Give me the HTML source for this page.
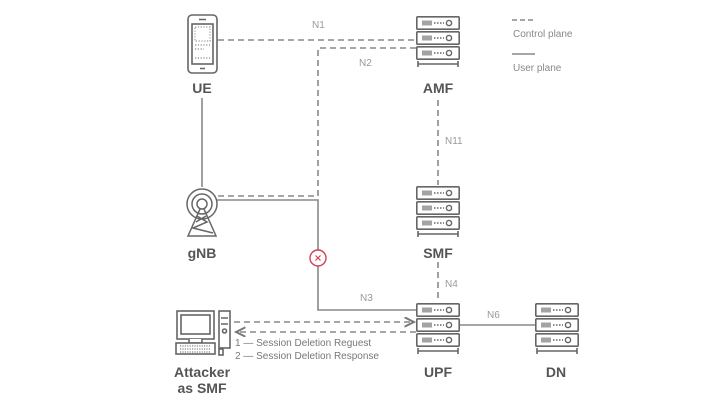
<!DOCTYPE html>
<html><head><meta charset="utf-8"><style>
html,body{margin:0;padding:0;background:#fff;}
svg{display:block;}
text{font-family:"Liberation Sans",sans-serif;}
.lbl{font-size:14px;font-weight:bold;fill:#555;text-anchor:middle;}
.sm{font-size:10px;fill:#999;}
</style></head><body>
<svg width="728" height="405" viewBox="0 0 728 405" xmlns="http://www.w3.org/2000/svg">
<defs>
<g id="unit">
<rect x="0.8" y="0.8" width="42.4" height="12.4" rx="1" fill="#fff" stroke="#666" stroke-width="1.6"/>
<path d="M7 4.5v5M9 4.5v5M11 4.5v5M13 4.5v5M15 4.5v5" stroke="#666" stroke-width="1.2"/>
<path d="M18 7h10" stroke="#666" stroke-width="1.4" stroke-dasharray="1.5 1.5"/>
<circle cx="33" cy="7" r="2.6" fill="none" stroke="#666" stroke-width="1.4"/>
</g>
<g id="server">
<use href="#unit" x="0" y="0"/>
<use href="#unit" x="0" y="15"/>
<use href="#unit" x="0" y="30"/>
<path d="M2 45v6M42 45v6M2 48h40" stroke="#666" stroke-width="1.6" fill="none"/>
</g>
<marker id="ar" markerWidth="8" markerHeight="8" refX="6" refY="3" orient="auto"><path d="M0,0 L6,3 L0,6" fill="none" stroke="#777" stroke-width="1.2"/></marker>
</defs>

<g stroke="#888" stroke-width="1.6" fill="none">
<!-- control plane -->
<path d="M218 40H416" stroke-dasharray="6 4"/>
<path d="M218 196H318V48H416" stroke-dasharray="6 4"/>
<path d="M438 100V185" stroke-dasharray="6 4"/>
<path d="M438 262V302" stroke-dasharray="6 4"/>
<path d="M234 322H414" stroke-dasharray="6 4" marker-end="url(#ar)"/>
<path d="M416 332H236" stroke-dasharray="6 4" marker-end="url(#ar)"/>
<!-- user plane -->
<path d="M202 98V187"/>
<path d="M216 200H318V310H416"/>
<path d="M460 325H535"/>
<!-- legend -->
<path d="M512 20H535" stroke-dasharray="5 3"/>
<path d="M512 54H535"/>
</g>

<!-- red X -->
<circle cx="318" cy="258" r="8" fill="#fff" stroke="#d04050" stroke-width="1.4"/>
<path d="M315.5 255.5l5 5M320.5 255.5l-5 5" stroke="#d04050" stroke-width="1.2"/>

<!-- UE phone -->
<g stroke="#666" stroke-width="1.6" fill="#fff">
<rect x="188" y="15" width="29" height="58" rx="4"/>
<rect x="192" y="24" width="21" height="40" fill="none"/>
<path d="M199 19.5h7M200 68.5h5" stroke-width="1.4"/>
</g>
<g fill="#777">
<rect x="195" y="27" width="15" height="14" fill="none" stroke="#999" stroke-width="1.2" stroke-dasharray="1.2 1.6"/>
<path d="M195 45h15M195 49h9M195 58h15" stroke="#888" stroke-width="1.2" stroke-dasharray="1.2 1.6"/>
</g>

<!-- servers -->
<use href="#server" x="416" y="16"/>
<use href="#server" x="416" y="186"/>
<use href="#server" x="416" y="303"/>
<use href="#server" x="535" y="303"/>

<!-- gNB -->
<g stroke="#666" stroke-width="1.5" fill="none">
<circle cx="202" cy="204" r="5"/>
<circle cx="202" cy="204" r="10"/>
<circle cx="202" cy="204" r="15"/>
<path d="M200 209L188 236H216L204 209M197 216L207 222L193 228L213 233M206 216L196 222"/>
</g>

<!-- attacker computer -->
<g stroke="#666" stroke-width="1.6" fill="#fff">
<rect x="177" y="311" width="37" height="28"/>
<rect x="181" y="315" width="29" height="19"/>
<path d="M189 339v4h13v-4"/>
<rect x="176" y="343" width="39" height="11"/>
<rect x="219" y="311" width="11" height="37"/>
<path d="M221 318h7M221 324h7"/>
<circle cx="224.5" cy="331" r="2"/>
<rect x="219" y="349" width="4" height="6"/>
</g>
<path d="M180 346h31M180 349h31M180 352h31" stroke="#888" stroke-width="1.2" stroke-dasharray="1.2 1.2"/>

<!-- labels -->
<text class="lbl" x="202" y="93">UE</text>
<text class="lbl" x="438" y="93">AMF</text>
<text class="lbl" x="202" y="258">gNB</text>
<text class="lbl" x="438" y="258">SMF</text>
<text class="lbl" x="438" y="377">UPF</text>
<text class="lbl" x="556" y="377">DN</text>
<text class="lbl" x="202" y="377">Attacker</text>
<text class="lbl" x="202" y="393">as SMF</text>
<text class="sm" x="312" y="28">N1</text>
<text class="sm" x="359" y="66">N2</text>
<text class="sm" x="445" y="144">N11</text>
<text class="sm" x="445" y="287">N4</text>
<text class="sm" x="360" y="301">N3</text>
<text class="sm" x="487" y="318">N6</text>
<text x="235" y="346" style="font-size:10px;fill:#777">1 — Session Deletion Reguest</text>
<text x="235" y="359" style="font-size:10px;fill:#777">2 — Session Deletion Response</text>
<text x="513" y="37" style="font-size:10px;fill:#888">Control plane</text>
<text x="513" y="71" style="font-size:10px;fill:#888">User plane</text>
</svg>
</body></html>
